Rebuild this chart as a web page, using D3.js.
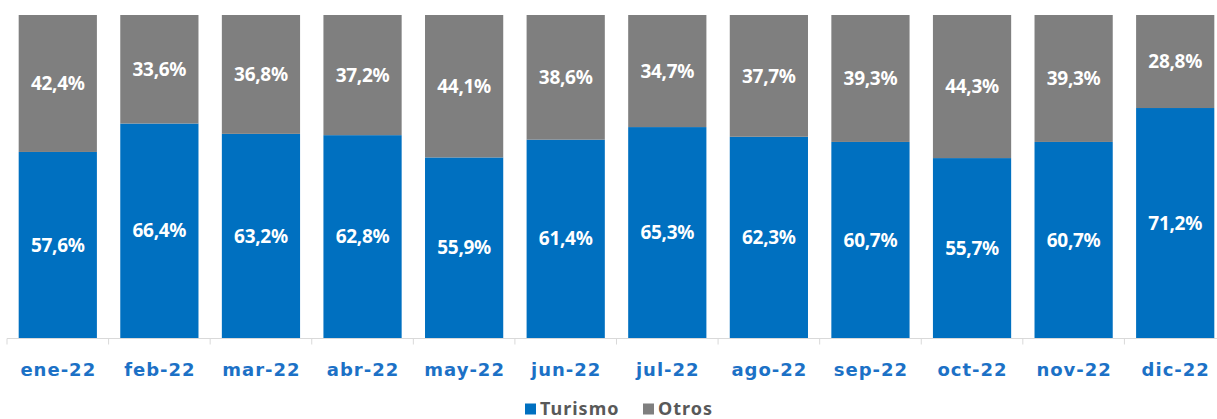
<!DOCTYPE html>
<html>
<head>
<meta charset="utf-8">
<script src="https://cdn.jsdelivr.net/npm/d3@7"></script>
<style>
  html, body { margin: 0; padding: 0; background: #fff; }
  svg { display: block; }
</style>
</head>
<body>
<svg id="chart" width="1217" height="419"></svg>
<script>
const categories = ["ene-22","feb-22","mar-22","abr-22","may-22","jun-22","jul-22","ago-22","sep-22","oct-22","nov-22","dic-22"];
const turismo = [57.6, 66.4, 63.2, 62.8, 55.9, 61.4, 65.3, 62.3, 60.7, 55.7, 60.7, 71.2];
const otros   = [42.4, 33.6, 36.8, 37.2, 44.1, 38.6, 34.7, 37.7, 39.3, 44.3, 39.3, 28.8];
const seriesNames = ["Turismo", "Otros"];
const colors = ["#0070C0", "#7F7F7F"];

const svg = d3.select("#chart");
const font = "'Noto Sans', 'DejaVu Sans', sans-serif";
const wideFont = "'DejaVu Sans', 'Noto Sans', sans-serif";

const x = d3.scaleBand().domain(categories).range([7, 1226]).paddingInner(0.23).paddingOuter(0.115);
const y = d3.scaleLinear().domain([0, 100]).range([338, 15]);

const rows = categories.map((c, i) => ({ cat: c, Turismo: turismo[i], Otros: otros[i] }));
const stack = d3.stack().keys(seriesNames)(rows);

const g = svg.append("g");
stack.forEach((layer, li) => {
  g.selectAll(null).data(layer).enter().append("rect")
    .attr("x", d => x(d.data.cat))
    .attr("y", d => y(d[1]))
    .attr("width", x.bandwidth())
    .attr("height", d => y(d[0]) - y(d[1]))
    .attr("fill", colors[li]);
  g.selectAll(null).data(layer).enter().append("text")
    .attr("x", d => x(d.data.cat) + x.bandwidth() / 2)
    .attr("y", d => (y(d[0]) + y(d[1])) / 2)
    .attr("dy", "0.35em")
    .attr("text-anchor", "middle")
    .attr("fill", "#fff")
    .attr("font-family", font)
    .attr("font-weight", "bold")
    .attr("font-size", 19)
    .attr("letter-spacing", -0.3)
    .text(d => (d[1] - d[0]).toFixed(1).replace(".", ",") + "%");
});

// axis
const axisG = svg.append("g").attr("transform", "translate(0,338.5)");
axisG.append("line").attr("x1", 7).attr("x2", 1226).attr("stroke", "#D9D9D9").attr("stroke-width", 1);
const step = x.step();
d3.range(categories.length + 1).forEach(i => {
  const xx = 7 + i * step;
  axisG.append("line").attr("x1", xx).attr("x2", xx).attr("y1", 0).attr("y2", 6)
    .attr("stroke", "#D9D9D9");
});
axisG.selectAll("text.cat").data(categories).enter().append("text")
  .attr("class", "cat")
  .attr("x", d => x(d) + x.bandwidth() / 2 + 0.5)
  .attr("y", 31)
  .attr("dy", "0.35em")
  .attr("text-anchor", "middle")
  .attr("fill", "#1C71C6")
  .attr("font-family", wideFont)
  .attr("font-weight", "bold")
  .attr("font-size", 18)
  .attr("letter-spacing", 1)
  .text(d => d);

// legend
const legend = svg.append("g").attr("transform", "translate(525,409)");
const items = [{ name: "Turismo", c: colors[0], x: 0 }, { name: "Otros", c: colors[1], x: 118 }];
items.forEach(it => {
  legend.append("rect").attr("x", it.x).attr("y", -5.5).attr("width", 11).attr("height", 11).attr("fill", it.c);
  legend.append("text").attr("x", it.x + 15).attr("y", 0).attr("dy", "0.35em")
    .attr("fill", "#595959").attr("font-family", font).attr("font-weight", "bold").attr("font-size", 18)
    .attr("letter-spacing", 1)
    .text(it.name);
});
</script>
</body>
</html>
